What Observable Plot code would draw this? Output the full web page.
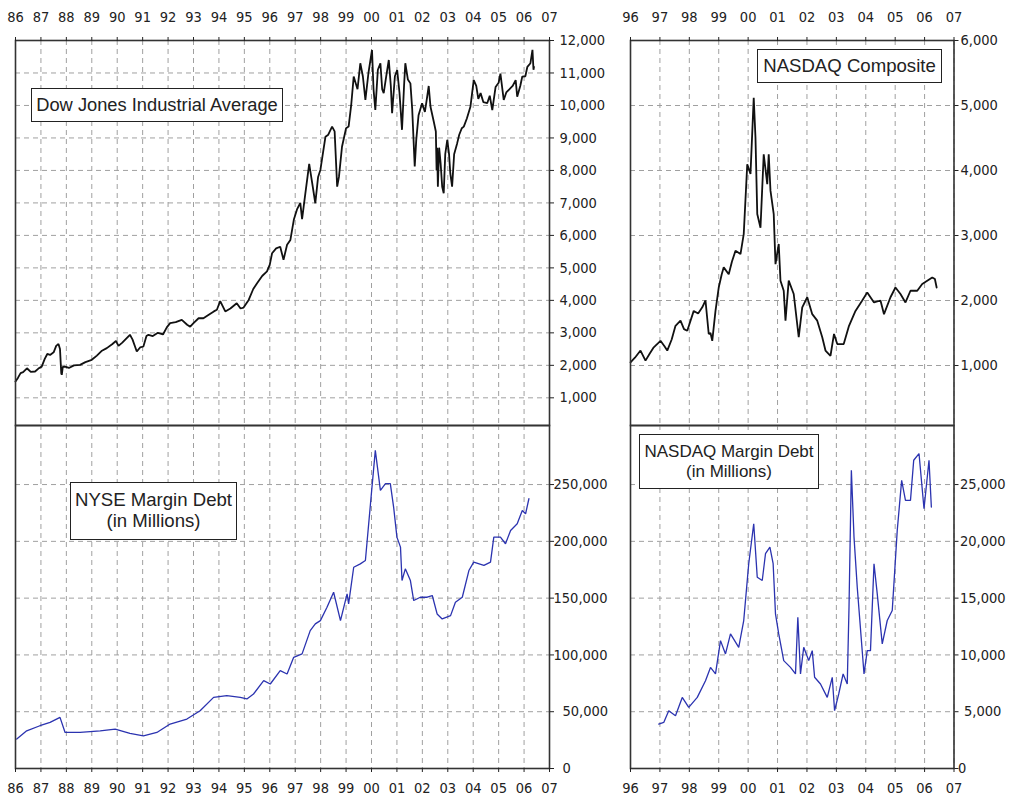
<!DOCTYPE html>
<html><head><meta charset="utf-8">
<script src="https://cdn.jsdelivr.net/npm/d3@7"></script>
<script src="https://cdn.jsdelivr.net/npm/@observablehq/plot@0.6"></script>
<style>
html,body{margin:0;padding:0;background:#fff;}
#wrap{position:relative;width:1014px;height:798px;overflow:hidden;background:#fff;}
.pnl{position:absolute;}
.pnl svg{display:block;}
.lbl{position:absolute;box-sizing:border-box;border:1.5px solid #222;background:#fff;font-family:"Liberation Sans",Arial,sans-serif;color:#222;text-align:center;display:flex;flex-direction:column;justify-content:center;line-height:1.12;}
</style></head><body><div id="wrap"></div>
<script>
// ---- tick values ----
const yearsLeft = d3.range(1986, 2008);
const yearsRight = d3.range(1996, 2008);
const dowTicks = [1000,2000,3000,4000,5000,6000,7000,8000,9000,10000,11000,12000];
const nasTicks = [1000,2000,3000,4000,5000,6000];
const nyseTicksWide = [100000,150000,200000,250000];
const nyseTicksNarrow = [0,50000];
const nmdTicksWide = [10000,15000,20000,25000];
const nmdTicksMid = [5000];
const nmdTicksZero = [0];

// ---- Dow Jones Industrial Average ----
const dowT = [1986.00,1986.10,1986.20,1986.30,1986.45,1986.60,1986.77,1986.90,1987.03,1987.15,1987.25,1987.36,1987.50,1987.60,1987.69,1987.75,1987.80,1987.82,1987.86,1987.95,
1988.10,1988.30,1988.54,1988.75,1989.00,1989.20,1989.40,1989.59,1989.80,1989.95,1990.05,1990.20,1990.50,1990.60,1990.77,1990.90,1991.03,1991.15,1991.23,1991.40,1991.60,1991.80,1991.95,
1992.08,1992.30,1992.54,1992.75,1992.87,1993.00,1993.20,1993.39,1993.60,1993.80,1993.92,1994.05,1994.25,1994.45,1994.70,1994.85,1994.97,1995.17,1995.35,1995.50,1995.70,1995.89,
1996.00,1996.09,1996.25,1996.41,1996.54,1996.68,1996.81,1996.95,1997.07,1997.20,1997.27,1997.40,1997.55,1997.65,1997.79,1997.90,1997.99,1998.19,1998.30,1998.45,1998.55,1998.65,1998.72,1998.84,
1999.00,1999.10,1999.20,1999.30,1999.45,1999.56,1999.66,1999.76,1999.88,2000.02,2000.08,2000.15,2000.25,2000.35,2000.42,2000.48,2000.58,2000.68,2000.76,2000.81,2000.92,
2001.01,2001.10,2001.20,2001.28,2001.33,2001.43,2001.53,2001.60,2001.70,2001.76,2001.85,2001.99,2002.10,2002.19,2002.25,2002.32,2002.45,2002.53,2002.56,2002.58,2002.61,2002.66,2002.72,2002.78,2002.84,2002.90,2002.98,
2003.05,2003.10,2003.17,2003.25,2003.37,2003.45,2003.55,2003.63,2003.75,2003.89,2004.02,2004.12,2004.20,2004.29,2004.40,2004.55,2004.65,2004.75,2004.88,
2005.00,2005.07,2005.20,2005.30,2005.40,2005.55,2005.67,2005.73,2005.85,2005.93,2006.05,2006.13,2006.25,2006.33,2006.37,2006.39];
const dowV = [1500,1620,1760,1790,1910,1800,1810,1900,1960,2200,2350,2320,2400,2600,2660,2500,1750,1710,1950,1960,
1920,2000,2015,2100,2170,2300,2450,2530,2650,2750,2600,2700,2940,2800,2425,2550,2580,2900,2940,2900,3000,2950,3170,
3300,3330,3400,3250,3190,3300,3450,3450,3560,3660,3710,3980,3660,3750,3910,3750,3780,4015,4350,4530,4750,4890,
5100,5450,5600,5650,5250,5710,5860,6500,6800,7000,6500,7300,8200,7700,6990,7800,8015,9040,9100,9350,9200,7500,7800,8730,
9300,9350,10000,10890,10500,11300,10900,10170,11000,11710,10500,9860,11100,11300,10500,10380,10900,11400,10600,9760,10900,
11090,10400,9250,10600,11300,10800,10680,9900,8120,8940,9700,10070,9800,10270,10600,9960,9500,9200,8000,8700,7500,8700,8200,7500,7300,8500,8940,
8500,7900,7500,8500,8840,9100,9300,9350,9600,9960,10780,10600,10200,10380,10100,10070,10300,9860,10570,
10700,10980,10170,10400,10480,10600,10780,10270,10600,10890,10900,11190,11300,11710,11100,11190];

// ---- NASDAQ Composite ----
const nasT = [1996.00,1996.15,1996.34,1996.51,1996.65,1996.79,1997.02,1997.15,1997.25,1997.40,1997.53,1997.70,1997.82,1997.93,1998.15,1998.30,1998.44,1998.55,1998.66,1998.72,1998.78,1998.89,
1999.00,1999.10,1999.17,1999.34,1999.45,1999.57,1999.74,1999.85,1999.97,2000.08,2000.19,2000.25,2000.31,2000.42,2000.53,2000.65,2000.70,2000.76,2000.87,2000.93,
2001.04,2001.10,2001.21,2001.27,2001.38,2001.55,2001.72,2001.84,2002.01,2002.18,2002.35,2002.52,2002.63,2002.80,2002.92,2003.03,2003.25,2003.43,2003.65,2003.88,
2004.05,2004.28,2004.50,2004.62,2004.84,2005.01,2005.18,2005.35,2005.52,2005.75,2005.92,2006.09,2006.26,2006.35,2006.41];
const nasV = [1050,1120,1230,1075,1180,1280,1380,1300,1230,1400,1610,1690,1560,1535,1840,1800,1895,2000,1485,1500,1380,1840,
2200,2400,2510,2405,2600,2765,2715,3020,4095,3945,5120,4500,3330,3120,4250,3790,4250,3690,3330,2560,
2870,2305,2150,1690,2305,2100,1435,1895,2050,1790,1690,1435,1230,1150,1485,1330,1330,1610,1840,2000,
2125,1970,2000,1790,2050,2200,2100,1970,2150,2150,2255,2305,2355,2330,2200];

// ---- NYSE Margin Debt (millions) ----
const nyseT = [1986.05,1986.44,1986.96,1987.36,1987.75,1987.95,1988.54,1989.33,1989.92,1990.50,1991.03,1991.56,1992.08,1992.74,1993.26,1993.79,1994.31,1994.84,1995.10,1995.36,1995.76,
1996.02,1996.41,1996.68,1996.94,1997.27,1997.59,1997.79,1997.99,1998.25,1998.51,1998.78,1999.04,1999.10,1999.30,1999.56,1999.76,1999.96,2000.15,2000.35,2000.55,2000.74,2000.87,
2001.00,2001.14,2001.20,2001.33,2001.53,2001.66,2001.92,2002.19,2002.39,2002.58,2002.78,2003.11,2003.30,2003.57,2003.83,2004.02,2004.42,2004.68,2004.81,2005.07,2005.27,2005.47,2005.73,2005.93,2006.06,2006.19];
const nyseV = [25900,33200,37650,40560,45000,31750,31750,33200,34700,30900,28800,31750,39150,43550,50900,62600,64100,62600,61200,65600,77300,
74400,86200,83200,97900,100900,121400,127300,130200,142000,155200,130200,153800,145000,177200,180200,183100,233100,280100,244900,250800,250800,230200,
203700,194900,165500,175800,165500,147900,150800,150800,152300,136100,131700,134600,146400,150800,174300,181700,178800,181700,203700,203700,197900,209600,215500,227200,224300,237500];

// ---- NASDAQ Margin Debt (millions) ----
const nmdT = [1996.96,1997.13,1997.30,1997.53,1997.76,1997.98,1998.27,1998.55,1998.72,1998.89,1999.06,1999.23,1999.40,1999.68,1999.85,2000.02,2000.19,2000.31,2000.48,2000.59,2000.74,2000.85,2000.93,
2001.04,2001.21,2001.44,2001.61,2001.69,2001.78,2001.89,2002.06,2002.18,2002.26,2002.46,2002.69,2002.86,2002.94,2003.08,2003.23,2003.37,2003.43,2003.51,2003.60,2003.71,2003.94,
2004.05,2004.16,2004.28,2004.39,2004.56,2004.73,2004.90,2005.07,2005.22,2005.35,2005.52,2005.63,2005.81,2005.98,2006.15,2006.23];
const nmdV = [3915,4060,5090,4650,6260,5380,6260,7730,8900,8330,11260,10090,11850,10670,13030,18030,21550,16840,16550,18910,19490,18030,13620,
11850,9500,8900,8330,13320,8330,10670,9500,10380,8030,7440,6260,8030,5090,6560,8330,7440,14200,26250,20370,15960,8330,
10380,10380,18030,15380,10970,13030,13910,20960,25370,23610,23610,27140,27730,22870,27140,23020];

const zip = (t, v) => t.map((d, i) => ({t: d, v: v[i]}));
const fmtYr = d => String(d % 100).padStart(2, "0");
const fmtNum = d3.format(",");
const grid = {stroke: "#a0a0a0", strokeOpacity: 1, strokeDasharray: "5,4", strokeWidth: 1};
const style = {fontFamily: "'DejaVu Sans Condensed','DejaVu Sans',sans-serif", fontSize: "14.5px", color: "#222", background: "transparent", overflow: "visible"};
const black = "#111";
const blue = "#2b33b0";

function panel(opts) {
  const {left, top, width, height, mt, mb, ml, mr, xDom, years, yDom, yTicks, yAxes, data, color, sw, xAnchor} = opts;
  const marks = [
    Plot.gridX(years, grid),
    Plot.gridY(yTicks, grid),
    Plot.line(data, {x: "t", y: "v", stroke: color, strokeWidth: sw, strokeLinejoin: "miter"}),
    Plot.frame({stroke: "#333", strokeWidth: 1.6}),
    Plot.axisX(years, xAnchor === "top"
      ? {anchor: "top", tickSize: 4, tickPadding: 15, tickFormat: fmtYr, label: null}
      : {anchor: "bottom", tickSize: 4, tickPadding: 10, tickFormat: fmtYr, label: null}),
    ...yAxes.map(a => Plot.axisY(a.ticks, {anchor: "right", tickSize: 4, tickPadding: a.pad, tickFormat: fmtNum, label: null}))
  ];
  const chart = Plot.plot({
    width, height, marginTop: mt, marginBottom: mb, marginLeft: ml, marginRight: mr,
    x: {domain: xDom, label: null}, y: {domain: yDom, label: null},
    style, marks
  });
  const div = document.createElement("div");
  div.className = "pnl";
  div.style.left = left + "px";
  div.style.top = top + "px";
  div.appendChild(chart);
  document.getElementById("wrap").appendChild(div);
}

// top-left: Dow
panel({left: 0, top: 0, width: 620, height: 426, mt: 40, mb: 1, ml: 15, mr: 71,
  xDom: [1986, 2007], years: yearsLeft, yDom: [148, 12000], yTicks: dowTicks,
  yAxes: [{ticks: dowTicks, pad: 6}], data: zip(dowT, dowV), color: black, sw: 1.8, xAnchor: "top"});
// top-right: NASDAQ Composite
panel({left: 620, top: 0, width: 394, height: 426, mt: 40, mb: 1, ml: 10, mr: 60.5,
  xDom: [1996, 2007], years: yearsRight, yDom: [77, 6000], yTicks: nasTicks,
  yAxes: [{ticks: nasTicks, pad: 2.5}], data: zip(nasT, nasV), color: black, sw: 1.8, xAnchor: "top"});
// bottom-left: NYSE margin debt
panel({left: 0, top: 424, width: 620, height: 374, mt: 1, mb: 30, ml: 15, mr: 71,
  xDom: [1986, 2007], years: yearsLeft, yDom: [0, 302000], yTicks: [0,50000,100000,150000,200000,250000],
  yAxes: [{ticks: nyseTicksWide, pad: 0}, {ticks: nyseTicksNarrow, pad: 9}], data: zip(nyseT, nyseV), color: blue, sw: 1.3, xAnchor: "bottom"});
// bottom-right: NASDAQ margin debt
panel({left: 620, top: 424, width: 394, height: 374, mt: 1, mb: 30, ml: 10, mr: 60.5,
  xDom: [1996, 2007], years: yearsRight, yDom: [0, 30200], yTicks: [0,5000,10000,15000,20000,25000],
  yAxes: [{ticks: nmdTicksWide, pad: 2}, {ticks: nmdTicksMid, pad: 6}, {ticks: nmdTicksZero, pad: 0}], data: zip(nmdT, nmdV), color: blue, sw: 1.3, xAnchor: "bottom"});

// label boxes
const labels = [
  {lines: ["Dow Jones Industrial Average"], left: 31, top: 88, w: 252, h: 34, fs: 18.3},
  {lines: ["NASDAQ Composite"], left: 757, top: 49, w: 185, h: 34, fs: 18.6},
  {lines: ["NYSE Margin Debt", "(in Millions)"], left: 70, top: 482, w: 167, h: 58, fs: 18.6},
  {lines: ["NASDAQ Margin Debt", "(in Millions)"], left: 639, top: 434, w: 180, h: 55, fs: 17}
];
for (const l of labels) {
  const d = document.createElement("div");
  d.className = "lbl";
  Object.assign(d.style, {left: l.left + "px", top: l.top + "px", width: l.w + "px", height: l.h + "px", fontSize: l.fs + "px"});
  for (const s of l.lines) { const sp = document.createElement("div"); sp.textContent = s; d.appendChild(sp); }
  document.getElementById("wrap").appendChild(d);
}
</script></body></html>
